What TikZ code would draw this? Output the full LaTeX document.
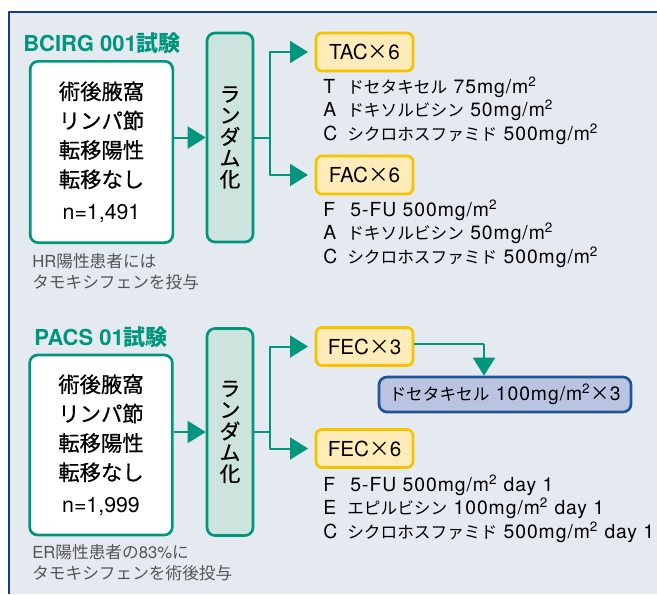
\documentclass[tikz,border=0pt]{standalone}
\usepackage{fontspec}
\setmainfont{TeX Gyre Heros}
\newfontfamily\jp{Noto Sans CJK JP}
\newfontfamily\jpm{Noto Sans CJK JP}[FakeBold=0.6]
\usepackage{xcolor}
\definecolor{myteal}{RGB}{0,150,125}
\definecolor{mylteal}{RGB}{204,227,222}
\definecolor{mybg}{RGB}{229,233,240}
\definecolor{mynavy}{RGB}{27,58,138}
\definecolor{myyellow}{RGB}{247,194,0}
\definecolor{mylyellow}{RGB}{255,236,184}
\definecolor{myblue}{RGB}{31,84,150}
\definecolor{mylblue}{RGB}{186,196,224}
\definecolor{mygray}{RGB}{85,85,85}
\usetikzlibrary{arrows.meta}
\newcommand{\lt}[1]{\makebox[18pt][l]{#1}}
\newcommand{\jd}[1]{{\jp\fontsize{12.5}{17.6}\selectfont #1}}
\newcommand{\sq}{\textsuperscript{2}}

\begin{document}
\begin{tikzpicture}[x=0.75pt,y=-0.75pt,line join=round]
	\tikzstyle{pt}=[draw=myteal,line width=2pt,fill=white,rounded corners=6pt,minimum width=107pt,minimum height=136pt,align=center,font=\fontsize{16}{22}\selectfont\jpm];
	\tikzstyle{rz}=[draw=myteal,line width=2pt,fill=mylteal,rounded corners=6pt,minimum width=34.5pt,align=center,font=\fontsize{15.5}{16}\selectfont\jpm];
	\tikzstyle{yb}=[draw=myyellow,line width=2pt,fill=mylyellow,rounded corners=4.5pt,minimum width=72.75pt,minimum height=28.5pt,font=\fontsize{15.5}{18}\selectfont];
	\tikzstyle{ttl}=[anchor=west,inner sep=0pt,text=myteal,font=\fontsize{16.5}{18}\selectfont\bfseries];
	\tikzstyle{dose}=[anchor=north west,inner sep=0pt,align=left,font=\fontsize{14.5}{17.6}\selectfont\addfontfeature{LetterSpace=5}];
	\tikzstyle{note}=[anchor=north west,inner sep=0pt,align=left,text=mygray,font=\fontsize{12.5}{15.75}\selectfont];
	\tikzstyle{ln}=[myteal,line width=1.5pt];
	\tikzstyle{arr}=[ln,-{Triangle[length=13.5pt,width=16.5pt]}];
	\useasboundingbox (0,0) rectangle (657,594);
	\fill[white] (0,0) rectangle (657,594);
	\fill[mybg] (9,12) rectangle (657,594);
	\draw[mynavy,line width=1.2pt] (9,594) -- (9,12) -- (657,12);
	% BCIRG 001
	\node[ttl] (t1) at (23,43) {BCIRG 001{\jp 試験}};
	\node[pt] (p1) at (101.5,152) {術後腋窩\\リンパ節\\転移陽性\\転移なし\\[2pt]{\rmfamily n=1,491}};
	\node[rz,minimum height=156.75pt] (r1) at (230,137.5) {ラ\\ン\\ダ\\ム\\化};
	\node[yb] (a1) at (364.5,52) {TAC{\jp ×}6};
	\node[yb] (a2) at (364.5,175) {FAC{\jp ×}6};
	\node[dose] (d1) at (323,76.5) {\lt{T}\jd{ドセタキセル} 75mg/m\sq\\\lt{A}\jd{ドキソルビシン} 50mg/m\sq\\\lt{C}\jd{シクロホスファミド} 500mg/m\sq};
	\node[dose] (d2) at (323,199.5) {\lt{F}\,5-FU 500mg/m\sq\\\lt{A}\jd{ドキソルビシン} 50mg/m\sq\\\lt{C}\jd{シクロホスファミド} 500mg/m\sq};
	\node[note] (n1) at (32,253.5) {HR{\jp 陽性患者には}\\{\jp タモキシフェンを投与}};
	\coordinate (b1) at (270,137.5);
	\draw[arr] (r1.west -| p1.east) -- (r1.west);
	\draw[ln] (r1.east) -- (b1);
	\draw[arr,shorten >=5pt] (b1) |- (a1.west);
	\draw[arr,shorten >=5pt] (b1) |- (a2.west);
	% PACS 01
	\node[ttl] (t2) at (34,337) {PACS 01{\jp 試験}};
	\node[pt,minimum height=135pt] (p2) at (101,445) {術後腋窩\\リンパ節\\転移陽性\\転移なし\\[2pt]{\rmfamily n=1,999}};
	\node[rz,minimum height=155.25pt] (r2) at (230,432) {ラ\\ン\\ダ\\ム\\化};
	\node[yb] (a3) at (364.5,346.5) {FEC{\jp ×}3};
	\node[yb] (a4) at (364.5,448.5) {FEC{\jp ×}6};
	\node[draw=myblue,line width=2pt,fill=mylblue,rounded corners=6pt,minimum width=189pt,minimum height=26.25pt,font=\fontsize{14.5}{16}\selectfont\addfontfeature{LetterSpace=5}] (x1) at (505,394.5) {\jd{ドセタキセル} 100mg/m\sq{\jp ×}3};
	\node[dose] (d3) at (323,474.5) {\lt{F}\,5-FU 500mg/m\sq{} day 1\\\lt{E}\jd{エピルビシン} 100mg/m\sq{} day 1\\\lt{C}\jd{シクロホスファミド} 500mg/m\sq{} day 1};
	\node[note] (n2) at (32,544.5) {ER{\jp 陽性患者の}83\%{\jp に}\\{\jp タモキシフェンを術後投与}};
	\coordinate (b2) at (270,432);
	\coordinate (c1) at (484,344);
	\draw[arr] (r2.west -| p2.east) -- (r2.west);
	\draw[ln] (r2.east) -- (b2);
	\draw[arr,shorten >=5pt] (b2) |- (a3.west);
	\draw[arr,shorten >=5pt] (b2) |- (a4.west);
	\draw[ln] (a3.east |- c1) -- (c1);
	\draw[arr] (c1) -- (c1 |- x1.north);
\end{tikzpicture}
\end{document}
